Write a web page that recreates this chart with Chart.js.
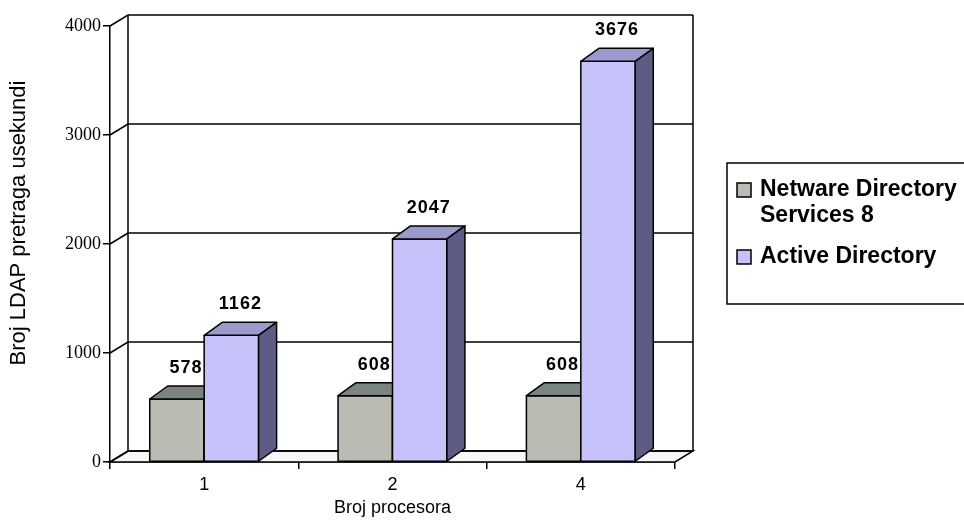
<!DOCTYPE html>
<html>
<head>
<meta charset="utf-8">
<script src="https://cdn.jsdelivr.net/npm/chart.js@4/dist/chart.umd.min.js"></script>
<style>
  html, body { margin: 0; padding: 0; background: #fff; }
  canvas { display: block; }
</style>
</head>
<body>
<canvas id="chart" width="964" height="521"></canvas>
<script>
// chart data
const categories = ['1', '2', '4'];
const seriesNames = ['Netware Directory Services 8', 'Active Directory'];
const ndsValues = [578, 608, 608];
const adValues = [1162, 2047, 3676];
const yMax = 4000;
const yStep = 1000;
const yTitle = 'Broj LDAP pretraga usekundi';
const xTitle = 'Broj procesora';

// 3d look
const DX = 18, DY = 11;      // depth of the walls
const BAR_DY = 13;           // depth of the bars (a bit steeper)
const faces = [
  { front: '#bbbbb3', top: '#7a8580', side: '#5e635f' },
  { front: '#c6c3fa', top: '#9c99cc', side: '#5c5c85' }
];
const SANS = '"Liberation Sans", Arial, sans-serif';

function poly(ctx, pts, fill) {
  ctx.beginPath();
  ctx.moveTo(pts[0][0], pts[0][1]);
  for (let i = 1; i < pts.length; i++) ctx.lineTo(pts[i][0], pts[i][1]);
  ctx.closePath();
  if (fill) { ctx.fillStyle = fill; ctx.fill(); }
  ctx.stroke();
}

const wallsPlugin = {
  id: 'walls',
  beforeDatasetsDraw(chart) {
    const { ctx, chartArea: a, scales: { y } } = chart;
    ctx.save();
    ctx.strokeStyle = '#000';
    ctx.lineWidth = 1.5;
    // floor
    poly(ctx, [[a.left, a.bottom], [a.right, a.bottom], [a.right + DX, a.bottom - DY], [a.left + DX, a.bottom - DY]], '#f7f7f7');
    // grid lines on the back wall + the left wall diagonals
    for (let v = 0; v <= yMax; v += yStep) {
      const py = y.getPixelForValue(v);
      ctx.beginPath();
      ctx.moveTo(a.left, py);
      ctx.lineTo(a.left + DX, py - DY);
      ctx.lineTo(a.right + DX, py - DY);
      ctx.stroke();
    }
    // wall edges
    ctx.beginPath();
    ctx.moveTo(a.left + DX, y.getPixelForValue(yMax) - DY);
    ctx.lineTo(a.left + DX, a.bottom - DY);
    ctx.moveTo(a.right + DX, y.getPixelForValue(yMax) - DY);
    ctx.lineTo(a.right + DX, a.bottom - DY);
    ctx.stroke();
    ctx.restore();
  },
  afterDatasetsDraw(chart) {
    const { ctx } = chart;
    ctx.save();
    ctx.strokeStyle = '#000';
    ctx.lineWidth = 1.5;
    ctx.lineJoin = 'round';
    categories.forEach((c, i) => {
      chart.data.datasets.forEach((ds, d) => {
        const el = chart.getDatasetMeta(d).data[i];
        const x0 = el.x - el.width / 2, x1 = el.x + el.width / 2;
        const yt = el.y, yb = el.base;
        const f = faces[d];
        poly(ctx, [[x0, yb], [x0, yt], [x1, yt], [x1, yb]], f.front);
        poly(ctx, [[x0, yt], [x0 + DX, yt - BAR_DY], [x1 + DX, yt - BAR_DY], [x1, yt]], f.top);
        poly(ctx, [[x1, yt], [x1 + DX, yt - BAR_DY], [x1 + DX, yb - BAR_DY], [x1, yb]], f.side);
      });
    });
    // value labels
    ctx.fillStyle = '#000';
    ctx.font = 'bold 18px ' + SANS;
    ctx.textAlign = 'center';
    ctx.textBaseline = 'middle';
    ctx.letterSpacing = '1px';
    chart.data.datasets.forEach((ds, d) => {
      chart.getDatasetMeta(d).data.forEach((el, i) => {
        ctx.fillText(String(ds.data[i]), el.x + DX / 2, el.y - BAR_DY - 18);
      });
    });
    ctx.restore();
  },
  afterDraw(chart) {
    // y axis title, drawn by hand to sit where the original has it
    const { ctx } = chart;
    ctx.save();
    ctx.translate(19, 223);
    ctx.rotate(-Math.PI / 2);
    ctx.fillStyle = '#000';
    ctx.font = '22px ' + SANS;
    ctx.textAlign = 'center';
    ctx.textBaseline = 'middle';
    ctx.fillText(yTitle, 0, 0);
    ctx.restore();
  }
};

const legendPlugin = {
  id: 'boxLegend',
  afterDraw(chart) {
    const { ctx } = chart;
    ctx.save();
    ctx.strokeStyle = '#000';
    ctx.lineWidth = 1.5;
    ctx.strokeRect(727, 163, 260, 141);
    ctx.font = 'bold 23px ' + SANS;
    ctx.textBaseline = 'middle';
    let ly = 190;
    chart.data.datasets.forEach((ds, d) => {
      ctx.fillStyle = faces[d].front;
      ctx.fillRect(737, ly - 7, 14, 14);
      ctx.strokeRect(737, ly - 7, 14, 14);
      ctx.fillStyle = '#000';
      // simple word wrap
      const words = ds.label.split(' ');
      let line = '';
      words.forEach(w => {
        const test = line ? line + ' ' + w : w;
        if (ctx.measureText(test).width > 215 && line) {
          ctx.fillText(line, 760, ly);
          ly += 26;
          line = w;
        } else {
          line = test;
        }
      });
      ctx.fillText(line, 760, ly);
      ly += 41;
    });
    ctx.restore();
  }
};

new Chart(document.getElementById('chart'), {
  type: 'bar',
  data: {
    labels: categories,
    datasets: [
      { label: seriesNames[0], data: ndsValues, backgroundColor: faces[0].front },
      { label: seriesNames[1], data: adValues, backgroundColor: faces[1].front }
    ]
  },
  options: {
    responsive: false,
    animation: false,
    events: [],
    datasets: { bar: { categoryPercentage: 0.578, barPercentage: 1.0 } },
    layout: { padding: { left: 0, top: 26, right: 289, bottom: 0 } },
    plugins: { legend: { display: false }, tooltip: { enabled: false } },
    scales: {
      x: {
        grid: { offset: true, drawOnChartArea: false, drawTicks: true, tickLength: 7, color: '#000', lineWidth: 1.5 },
        border: { display: true, color: '#000', width: 1.5 },
        ticks: { color: '#000', font: { family: SANS, size: 18 }, padding: 5 },
        title: { display: true, text: xTitle, color: '#000', font: { family: SANS, size: 18 }, padding: { top: 0, bottom: 2 } },
        afterFit(s) { s.height = 59; }
      },
      y: {
        min: 0,
        max: yMax,
        grid: { drawOnChartArea: false, drawTicks: true, tickLength: 7, color: '#000', lineWidth: 1.5 },
        border: { display: true, color: '#000', width: 1.5 },
        ticks: {
          stepSize: yStep,
          color: '#000',
          font: { family: '"Liberation Serif", "Times New Roman", serif', size: 18 },
          padding: 2,
          callback: v => String(v)
        },
        afterFit(s) { s.width = 110; }
      }
    }
  },
  plugins: [wallsPlugin, legendPlugin]
});
</script>
</body>
</html>
